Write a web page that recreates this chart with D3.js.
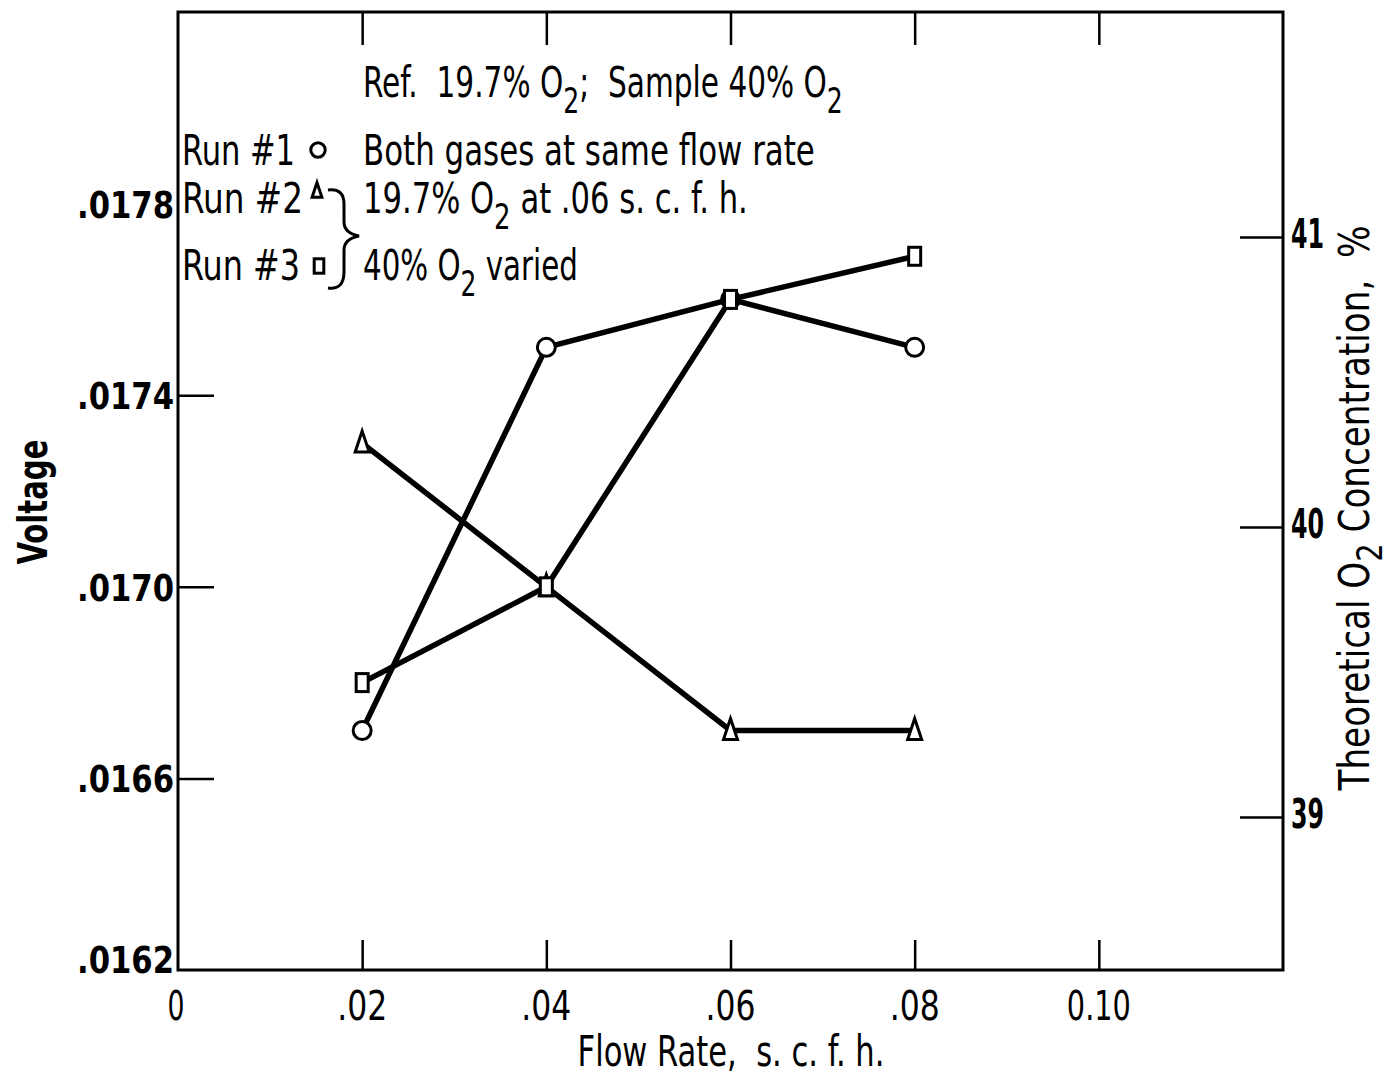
<!DOCTYPE html>
<html>
<head>
<meta charset="utf-8">
<script src="https://cdn.jsdelivr.net/npm/d3@7"></script>
<style>
  body { margin: 0; background: #fff; }
  svg text { font-family: "DejaVu Sans Condensed", "DejaVu Sans", sans-serif; fill: #000; white-space: pre; }
</style>
</head>
<body>
<div id="chart"></div>
<script>
// data
const flowRates = [0.02, 0.04, 0.06, 0.08];
const run1 = [0.0167, 0.0175, 0.0176, 0.0175];   // circles
const run2 = [0.0173, 0.0170, 0.0167, 0.0167];   // triangles
const run3 = [0.0168, 0.0170, 0.0176, 0.01769];  // squares
const xTicks = [0, 0.02, 0.04, 0.06, 0.08, 0.10];
const xTickLabels = ["0", ".02", ".04", ".06", ".08", "0.10"];
const yTicks = [0.0162, 0.0166, 0.0170, 0.0174, 0.0178];
const yTickLabels = [".0162", ".0166", ".0170", ".0174", ".0178"];
const rightTicks = [39, 40, 41];

const W = 1393, H = 1076;
const margin = { top: 12, right: 110, bottom: 106, left: 178 };

const svg = d3.select("#chart").append("svg")
    .attr("width", W)
    .attr("height", H);

// scales
const x = d3.scaleLinear().domain([0, 0.12]).range([margin.left, W - margin.right]);
const y = d3.scaleLinear().domain([0.0162, 0.0182]).range([H - margin.bottom, margin.top]);
const yRight = d3.scaleLinear().domain([38.472, 41.776]).range([H - margin.bottom, margin.top]);

const x0 = x.range()[0], x1 = x.range()[1], y0 = y.range()[0], y1 = y.range()[1];

// squeeze a text horizontally so it fills the given width (the original lettering is condensed)
function fit(t, width, px, py, rot) {
    const w = t.node().getComputedTextLength();
    const s = width / w;
    t.attr("transform", `translate(${px},${py})` + (rot ? ` rotate(${rot})` : "") + ` scale(${s},1)`);
    return t;
}

// text with subscript "2" parts
function richText(parts, size, drop) {
    const d = drop || 0.38;
    const t = svg.append("text").attr("font-size", size);
    let down = false;
    parts.forEach(p => {
        const isSub = p === "2";
        const sp = t.append("tspan").text(p);
        if (isSub && !down) { sp.attr("dy", size * d).attr("font-size", size * 0.85); down = true; }
        else if (!isSub && down) { sp.attr("dy", -size * d); down = false; }
    });
    return t;
}

// frame
svg.append("rect")
    .attr("x", x0).attr("y", y1)
    .attr("width", x1 - x0).attr("height", y0 - y1)
    .attr("fill", "none").attr("stroke", "#000").attr("stroke-width", 3);

// x ticks (bottom, pointing up) and top ticks (pointing down)
const xInner = xTicks.filter(d => d > 0);
svg.append("g").attr("transform", `translate(0,${y0})`)
    .call(d3.axisTop(x).tickValues(xInner).tickSize(30).tickFormat(""))
    .call(g => g.select(".domain").remove())
    .call(g => g.selectAll("line").attr("stroke-width", 2.5));
svg.append("g").attr("transform", `translate(0,${y1})`)
    .call(d3.axisBottom(x).tickValues(xInner).tickSize(33).tickFormat(""))
    .call(g => g.select(".domain").remove())
    .call(g => g.selectAll("line").attr("stroke-width", 2.5));

// x tick labels
xTicks.forEach((d, i) => {
    const t = svg.append("text")
        .attr("text-anchor", "middle")
        .attr("font-size", 41)
        .text(xTickLabels[i]);
    fit(t, i === 0 ? 17 : (i === 5 ? 64 : 50), x(d) + (i === 0 ? -2 : 0), y0 + 50);
});

// left ticks pointing inward (.0178 hidden behind legend text)
svg.append("g").attr("transform", `translate(${x0},0)`)
    .call(d3.axisRight(y).tickValues([0.0166, 0.0170, 0.0174]).tickSize(36).tickFormat(""))
    .call(g => g.select(".domain").remove())
    .call(g => g.selectAll("line").attr("stroke-width", 2.5));

yTicks.forEach((d, i) => {
    svg.append("text")
        .attr("x", x0 - 4)
        .attr("y", i === 0 ? y(d) + 3 : y(d) + 14)   // bottom label sits on the corner
        .attr("text-anchor", "end")
        .attr("font-size", 38)
        .attr("font-weight", "bold")
        .attr("textLength", 97)
        .attr("lengthAdjust", "spacingAndGlyphs")
        .text(yTickLabels[i]);
});

// right ticks pointing inward
svg.append("g").attr("transform", `translate(${x1},0)`)
    .call(d3.axisLeft(yRight).tickValues(rightTicks).tickSize(43).tickFormat(""))
    .call(g => g.select(".domain").remove())
    .call(g => g.selectAll("line").attr("stroke-width", 2.5));

rightTicks.forEach(d => {
    svg.append("text")
        .attr("x", x1 + 8)
        .attr("y", yRight(d) + 11)
        .attr("font-size", 40)
        .attr("font-weight", "bold")
        .attr("textLength", 33)
        .attr("lengthAdjust", "spacingAndGlyphs")
        .text(d);
});

// axis titles
fit(svg.append("text")
    .attr("text-anchor", "middle")
    .attr("font-size", 42)
    .text("Flow Rate,  s. c. f. h."), 307, 731, 1066);

fit(svg.append("text")
    .attr("text-anchor", "middle")
    .attr("font-size", 40)
    .attr("font-weight", "bold")
    .text("Voltage"), 125, 47, 502, -90);

fit(richText(["Theoretical O", "2", " Concentration,  %"], 42, 0.3)
    .attr("text-anchor", "middle"), 565, 1369, 508, -90);

// series
const series = [
    { name: "Run #1", values: run1, shape: "circle" },
    { name: "Run #2", values: run2, shape: "triangle" },
    { name: "Run #3", values: run3, shape: "square" }
];

const line = d3.line().x(d => x(d[0])).y(d => y(d[1]));

series.forEach(s => {
    const pts = flowRates.map((f, i) => [f, s.values[i]]);
    svg.append("path")
        .datum(pts)
        .attr("d", line)
        .attr("fill", "none")
        .attr("stroke", "#000")
        .attr("stroke-width", 5.5);
});

function drawMarker(g, shape, cx, cy, k) {
    k = k || 1;
    if (shape === "circle") {
        g.append("circle").attr("cx", cx).attr("cy", cy).attr("r", 9 * k)
            .attr("fill", "#fff").attr("stroke", "#000").attr("stroke-width", 3);
    } else if (shape === "triangle") {
        g.append("path")
            .attr("d", `M${cx},${cy - 12 * k} L${cx + 7 * k},${cy + 9 * k} L${cx - 7 * k},${cy + 9 * k} Z`)
            .attr("fill", "#fff").attr("stroke", "#000").attr("stroke-width", 3);
    } else {
        g.append("rect").attr("x", cx - 6 * k).attr("y", cy - 9 * k)
            .attr("width", 12 * k).attr("height", 18 * k)
            .attr("fill", "#fff").attr("stroke", "#000").attr("stroke-width", 3);
    }
}

const markers = svg.append("g");
series.forEach(s => {
    flowRates.forEach((f, i) => drawMarker(markers, s.shape, x(f), y(s.values[i])));
});

// legend / annotation block
const fs = 42;
fit(richText(["Ref.  19.7% O", "2", ";  Sample 40% O", "2"], fs), 480, 363, 97);

fit(svg.append("text").attr("font-size", fs).text("Run #1"), 113, 182, 165);
drawMarker(svg, "circle", 318, 150, 0.8);
fit(svg.append("text").attr("font-size", fs).text("Both gases at same flow rate"), 452, 363, 165);

fit(svg.append("text").attr("font-size", fs).text("Run #2"), 121, 182, 213);
drawMarker(svg, "triangle", 317, 191, 0.7);
fit(richText(["19.7% O", "2", " at .06 s. c. f. h."], fs), 385, 363, 213);

fit(svg.append("text").attr("font-size", fs).text("Run #3"), 118, 182, 280);
drawMarker(svg, "square", 319, 266, 0.8);
fit(richText(["40% O", "2", " varied"], fs), 215, 363, 280);

// brace joining runs 2 and 3
svg.append("path")
    .attr("d", "M328,190 Q344,188 344,204 L344,222 Q344,233 359,236 Q344,239 344,250 L344,272 Q344,290 328,288")
    .attr("fill", "none").attr("stroke", "#000").attr("stroke-width", 3);
</script>
</body>
</html>
